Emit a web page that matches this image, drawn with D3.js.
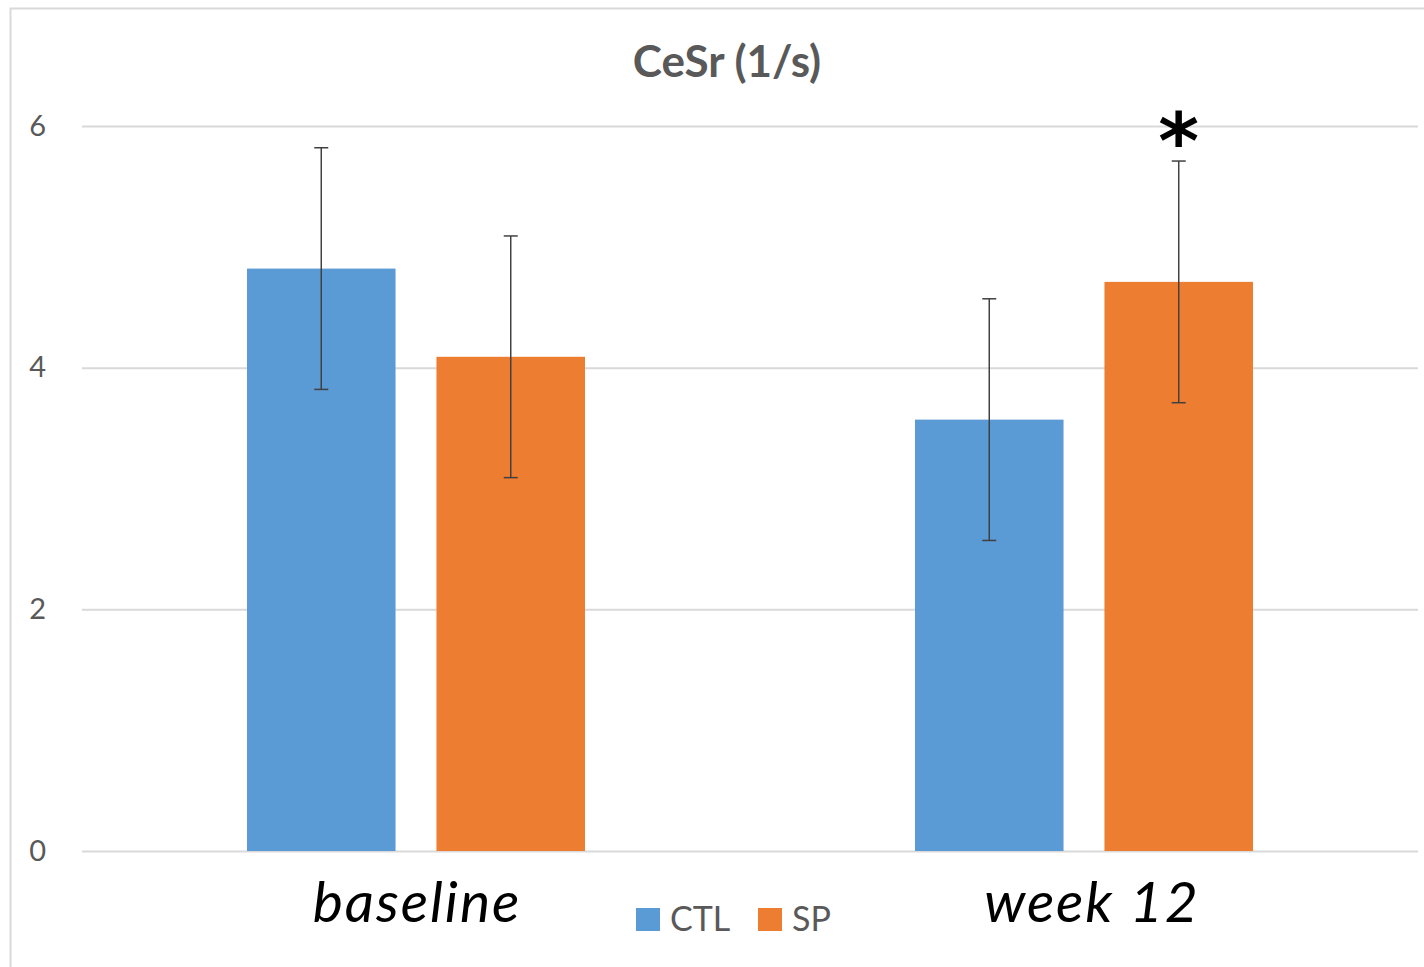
<!DOCTYPE html>
<html>
<head>
<meta charset="utf-8">
<script src="https://cdn.jsdelivr.net/npm/d3@7"></script>
<style>
  body { margin: 0; background: #fff; }
  svg { display: block; }
</style>
</head>
<body>
<div id="chart"></div>
<script>
// Data
const categories = ["baseline", "week 12"];
const seriesNames = ["CTL", "SP"];
const ctlValues = [4.82, 3.57];
const spValues = [4.09, 4.71];
const ctlErrors = [1.0, 1.0];
const spErrors = [1.0, 1.0];
const yTicks = [0, 2, 4, 6];
const significant = [{ category: "week 12", series: "SP", label: "*" }];

const colors = { CTL: "#5B9BD5", SP: "#ED7D31" };

const W = 1424, H = 967;
const plot = { left: 82, right: 1418, top: 126, bottom: 851 };

const svg = d3.select("#chart").append("svg")
    .attr("width", W)
    .attr("height", H);

// chart frame
svg.append("rect")
    .attr("x", 10.5).attr("y", 8.5)
    .attr("width", W + 20).attr("height", H + 20)
    .attr("fill", "#fff")
    .attr("stroke", "#d9d9d9")
    .attr("stroke-width", 2);

const x0 = d3.scaleBand().domain(categories).range([plot.left, plot.right]);
const x1 = d3.scaleBand().domain(seriesNames)
    .range([x0.bandwidth() / 2 - 169, x0.bandwidth() / 2 + 169])
    .paddingInner(0.216);
const y = d3.scaleLinear().domain([0, 6]).range([plot.bottom, plot.top]);

// gridlines + tick labels
const yAxis = svg.append("g")
    .attr("transform", `translate(${plot.left},0)`)
    .call(d3.axisLeft(y).tickValues(yTicks).tickFormat(d3.format("d"))
        .tickSize(-(plot.right - plot.left)).tickPadding(36));
yAxis.select(".domain").remove();
yAxis.selectAll(".tick line").attr("stroke", "#d9d9d9").attr("stroke-width", 2);
yAxis.selectAll(".tick text")
    .attr("fill", "#595959")
    .style("font-family", "Lato, 'Open Sans', sans-serif")
    .style("font-size", "29px");

// bars
const rows = [];
categories.forEach((c, i) => {
    rows.push({ category: c, series: "CTL", value: ctlValues[i], err: ctlErrors[i] });
    rows.push({ category: c, series: "SP", value: spValues[i], err: spErrors[i] });
});

svg.selectAll("rect.bar").data(rows).enter().append("rect")
    .attr("class", "bar")
    .attr("x", d => x0(d.category) + x1(d.series))
    .attr("y", d => y(d.value))
    .attr("width", x1.bandwidth())
    .attr("height", d => y(0) - y(d.value))
    .attr("fill", d => colors[d.series]);

// error bars
const cx = d => x0(d.category) + x1(d.series) + x1.bandwidth() / 2;
const err = svg.append("g").attr("stroke", "#404040").attr("stroke-width", 1.5);
err.selectAll("line.v").data(rows).enter().append("line")
    .attr("x1", cx).attr("x2", cx)
    .attr("y1", d => y(d.value + d.err)).attr("y2", d => y(d.value - d.err));
["+", "-"].forEach(s => {
    err.selectAll("line.cap" + (s === "+" ? "t" : "b")).data(rows).enter().append("line")
        .attr("x1", d => cx(d) - 7).attr("x2", d => cx(d) + 7)
        .attr("y1", d => y(s === "+" ? d.value + d.err : d.value - d.err))
        .attr("y2", d => y(s === "+" ? d.value + d.err : d.value - d.err));
});

// significance marker
svg.selectAll("text.sig").data(significant).enter().append("text")
    .attr("class", "sig")
    .attr("x", d => x0(d.category) + x1(d.series) + x1.bandwidth() / 2)
    .attr("y", d => {
        const r = rows.find(r => r.category === d.category && r.series === d.series);
        return y(r.value + r.err) + 8;
    })
    .attr("text-anchor", "middle")
    .attr("fill", "#000")
    .style("font-family", "'DejaVu Sans', sans-serif")
    .style("font-weight", "bold")
    .style("font-size", "78px")
    .text(d => d.label);

// title
svg.append("text")
    .attr("x", 727).attr("y", 77)
    .attr("text-anchor", "middle")
    .attr("fill", "#595959")
    .style("font-family", "Lato, 'Open Sans', sans-serif")
    .style("font-weight", "bold")
    .style("font-size", "44px")
    .text("CeSr (1/s)");

// category labels (week 12 sits a touch right of its band centre in the original)
const labelNudge = [1, 8];
svg.selectAll("text.cat").data(categories).enter().append("text")
    .attr("class", "cat")
    .attr("x", (d, i) => x0(d) + x0.bandwidth() / 2 + labelNudge[i])
    .attr("y", 922)
    .attr("text-anchor", "middle")
    .attr("fill", "#000")
    .style("font-family", "Lato, 'Open Sans', sans-serif")
    .style("font-style", "italic")
    .style("font-size", "57px")
    .style("letter-spacing", "2px")
    .text(d => d);

// legend
const legend = svg.append("g").attr("transform", "translate(636,908)");
const legendX = [0, 122];
seriesNames.forEach((s, i) => {
    const g = legend.append("g").attr("transform", `translate(${legendX[i]},0)`);
    g.append("rect").attr("width", 24).attr("height", 23).attr("fill", colors[s]);
    g.append("text")
        .attr("x", 34).attr("y", 23)
        .attr("fill", "#595959")
        .style("font-family", "Lato, 'Open Sans', sans-serif")
        .style("font-size", "34px")
        .text(s);
});
</script>
</body>
</html>
